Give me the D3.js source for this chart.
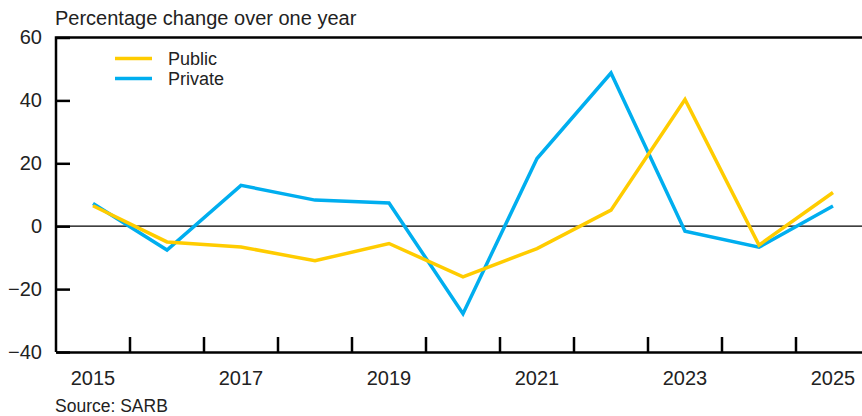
<!DOCTYPE html>
<html lang="en">
<head>
  <meta charset="UTF-8" />
  <title>Percentage change over one year</title>
  <script src="https://d3js.org/d3.v7.min.js"></script>
  <style>
    body { margin: 0; background: #fff; }
    svg { display: block; font-family: "Liberation Sans", Arial, sans-serif; }
    .tick text { font-size: 20px; fill: #222; }
    .lbl { font-size: 18px; fill: #222; }
  </style>
</head>
<body>
<svg width="862" height="416"></svg>
<script>
  const years = [2015, 2016, 2017, 2018, 2019, 2020, 2021, 2022, 2023, 2024, 2025];
  const publicVals  = [6.5, -5.0, -6.6, -11.0, -5.5, -16.1, -7.1, 5.1, 40.3, -6.0, 10.7];
  const privateVals = [7.2, -7.6, 13.0, 8.3, 7.4, -27.8, 21.5, 48.7, -1.6, -6.7, 6.4];
  const yTicks = [-40, -20, 0, 20, 40, 60];
  const xLabels = [2015, 2017, 2019, 2021, 2023, 2025];

  const colors = { "Public": "#ffcc00", "Private": "#00aeef" };

  const svg = d3.select("svg");
  const plot = { left: 56, right: 870, top: 37.5, bottom: 352 };

  const x = d3.scaleBand().domain(years).range([plot.left, plot.right]);
  const y = d3.scaleLinear().domain([-40, 60]).range([plot.bottom, plot.top]);

  // frame
  svg.append("path")
    .attr("d", `M${plot.left},${plot.bottom}V${plot.top}H${plot.right}`)
    .attr("fill", "none").attr("stroke", "#000").attr("stroke-width", 2.5);

  // y axis
  const yAxis = svg.append("g")
    .attr("transform", `translate(${plot.left},0)`)
    .call(d3.axisRight(y).tickValues(yTicks).tickSize(14).tickFormat(d3.format("d")));
  yAxis.select(".domain").remove();
  yAxis.selectAll("line").attr("stroke", "#000").attr("stroke-width", 2.5);
  yAxis.selectAll("text").attr("x", -14).attr("text-anchor", "end");

  // x axis
  const xAxis = svg.append("g")
    .attr("transform", `translate(0,${plot.bottom})`)
    .call(d3.axisBottom(x).tickSize(0).tickFormat(d => xLabels.includes(d) ? d : ""));
  xAxis.select(".domain").attr("stroke", "#000").attr("stroke-width", 2.5);
  xAxis.selectAll("text").attr("y", 33).attr("dy", 0);

  // x ticks at band boundaries
  svg.append("g").selectAll("line")
    .data(years.slice(1))
    .enter().append("line")
    .attr("x1", d => x(d)).attr("x2", d => x(d))
    .attr("y1", plot.bottom).attr("y2", plot.bottom - 15)
    .attr("stroke", "#000").attr("stroke-width", 2.5);

  // zero line
  svg.append("line")
    .attr("x1", plot.left).attr("x2", plot.right)
    .attr("y1", y(0)).attr("y2", y(0))
    .attr("stroke", "#000").attr("stroke-width", 1.2);

  const line = d3.line()
    .x((d, i) => x(years[i]) + x.bandwidth() / 2)
    .y(d => y(d));

  [["Private", privateVals], ["Public", publicVals]].forEach(([key, vals]) => {
    svg.append("path")
      .datum(vals)
      .attr("fill", "none")
      .attr("stroke", colors[key])
      .attr("stroke-width", 3.5)
      .attr("stroke-linejoin", "miter")
      .attr("d", line);
  });

  // legend
  const legend = svg.append("g");
  ["Public", "Private"].forEach((key, i) => {
    legend.append("line")
      .attr("x1", 115).attr("x2", 152)
      .attr("y1", 58.5 + i * 20).attr("y2", 58.5 + i * 20)
      .attr("stroke", colors[key]).attr("stroke-width", 3.5);
    legend.append("text")
      .attr("class", "lbl")
      .attr("x", 168).attr("y", 64.5 + i * 20)
      .text(key);
  });

  svg.append("text").attr("class", "lbl")
    .attr("x", 55).attr("y", 25)
    .style("font-size", "20px")
    .text("Percentage change over one year");

  svg.append("text").attr("class", "lbl")
    .attr("x", 55).attr("y", 412)
    .style("font-size", "17.5px")
    .text("Source: SARB");
</script>
</body>
</html>
